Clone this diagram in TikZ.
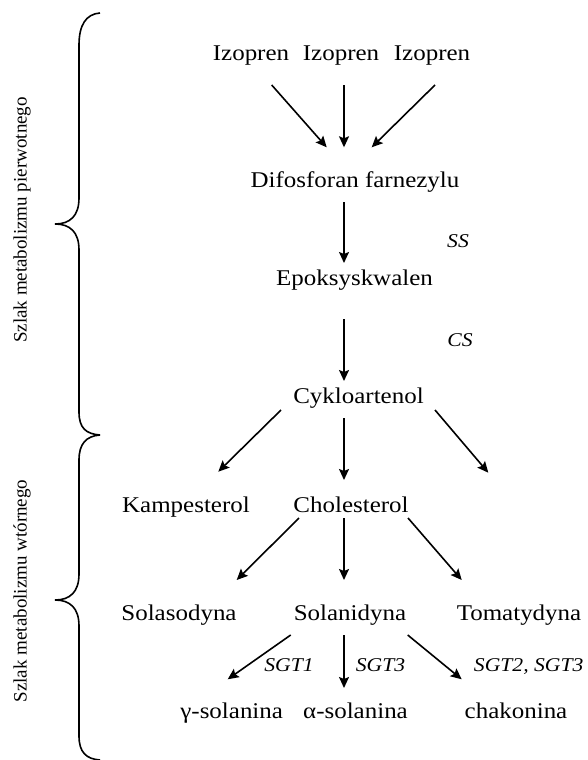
\documentclass[tikz,border=0pt]{standalone}
\usepackage{fontspec}
\setmainfont{Liberation Serif}
\newfontfamily\mainf[FakeStretch=1.11]{Liberation Serif}
\usetikzlibrary{arrows.meta}
\tikzset{
  lbl/.style={anchor=base, inner sep=0pt, font=\mainf\fontsize{22.5}{27}\selectfont},
  enz/.style={anchor=base, inner sep=0pt, font=\mainf\itshape\fontsize{19.5}{24}\selectfont},
  side/.style={inner sep=0pt, rotate=90, font=\fontsize{19}{23}\selectfont},
  arr/.style={-{Stealth[length=11pt,width=10pt,inset=2pt]}, line width=1.6pt},
  brace/.style={line width=1.6pt}
}
\begin{document}
\begin{tikzpicture}[x=1pt,y=-1pt]
\useasboundingbox (0,0) rectangle (587,760);
% braces
\draw[brace] (100,13) .. controls (86,14) and (79,25) .. (79,45) -- (79,198)
  .. controls (79,216) and (70,224) .. (55,224)
  .. controls (70,224) and (79,232) .. (79,250) -- (79,412)
  .. controls (79,428) and (86,434) .. (100,435);
\draw[brace] (100,435) .. controls (86,436) and (79,444) .. (79,460) -- (79,574)
  .. controls (79,592) and (70,600) .. (55,600)
  .. controls (70,600) and (79,608) .. (79,626) -- (79,736)
  .. controls (79,752) and (86,759) .. (100,760);
\node[side] (s1) at (22,220) {Szlak metabolizmu pierwotnego};
\node[side] (s2) at (22,591) {Szlak metabolizmu wtórnego};
% nodes
\node[lbl] (izo1) at (251,60) {Izopren};
\node[lbl] (izo2) at (341,60) {Izopren};
\node[lbl] (izo3) at (432,60) {Izopren};
\node[lbl] (dif) at (355,187) {Difosforan farnezylu};
\node[lbl] (epo) at (354.5,285) {Epoksyskwalen};
\node[lbl] (cyk) at (358.5,403) {Cykloartenol};
\node[lbl] (kam) at (186,512) {Kampesterol};
\node[lbl] (cho) at (351,512) {Cholesterol};
\node[lbl] (sold) at (179,620) {Solasodyna};
\node[lbl] (soln) at (350,620) {Solanidyna};
\node[lbl] (tom) at (519,620) {Tomatydyna};
\node[lbl] (gam) at (231.7,718) {γ-solanina};
\node[lbl] (alp) at (355.5,718) {α-solanina};
\node[lbl] (cha) at (516,718) {chakonina};
\node[enz] (ss) at (458,247) {SS};
\node[enz] (cs) at (460,346) {CS};
\node[enz] (sgt1) at (289,671) {SGT1};
\node[enz] (sgt3) at (380.5,671) {SGT3};
\node[enz] (sgt23) at (528.7,671) {SGT2, SGT3};
\coordinate (free) at (488.3,472.7);
% arrows
\draw[arr] ([shift={(20.7,25)}]izo1.base) -- ([shift={(-28.3,-39.7)}]dif.base);
\draw[arr] ([shift={(3,25)}]izo2.base) -- ([shift={(-11,-39.7)}]dif.base);
\draw[arr] ([shift={(3,25)}]izo3.base) -- ([shift={(16.7,-39.7)}]dif.base);
\draw[arr] ([shift={(-11,15)}]dif.base) -- ([shift={(-10.5,-22)}]epo.base);
\draw[arr] ([shift={(-10.5,34)}]epo.base) -- ([shift={(-14.5,-22)}]cyk.base);
\draw[arr] ([shift={(-77.5,7)}]cyk.base) -- ([shift={(32.3,-40.3)}]kam.base);
\draw[arr] ([shift={(-14.5,15)}]cyk.base) -- ([shift={(-7,-32)}]cho.base);
\draw[arr] ([shift={(76.5,7)}]cyk.base) -- (free);
\draw[arr] ([shift={(-52,6)}]cho.base) -- ([shift={(57.7,-40)}]sold.base);
\draw[arr] ([shift={(-7,6)}]cho.base) -- ([shift={(-6,-40)}]soln.base);
\draw[arr] ([shift={(57,6)}]cho.base) -- ([shift={(-57.3,-40)}]tom.base);
\draw[arr] ([shift={(-59.3,15)}]soln.base) -- ([shift={(-4,-38.7)}]gam.base);
\draw[arr] ([shift={(-6,15)}]soln.base) -- ([shift={(-11.5,-30)}]alp.base);
\draw[arr] ([shift={(57.7,15)}]soln.base) -- ([shift={(-54.3,-38.7)}]cha.base);
\end{tikzpicture}
\end{document}
